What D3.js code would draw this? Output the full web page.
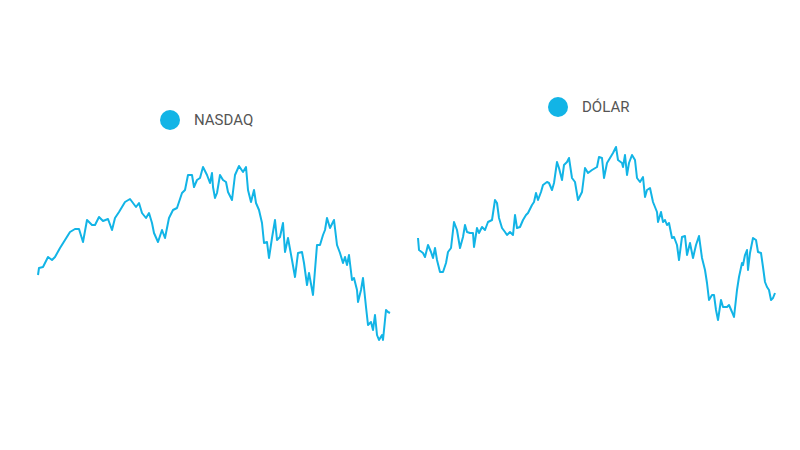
<!DOCTYPE html>
<html><head><meta charset="utf-8">
<script src="https://cdn.jsdelivr.net/npm/d3@7"></script>
<style>body{margin:0;background:#fff}svg{display:block}</style>
</head><body>
<svg id="c" width="800" height="450"></svg>
<script>
const seriesNames = ["NASDAQ", "DÓLAR"];
const nasdaqDays = [0,1,5,10,14,17,22,27,32,37,41,45,49,54,57,61,65,70,74,77,81,87,92,95,98,101,104,108,111,114,116,120,124,127,131,135,139,144,147,150,154,156,159,162,165,169,172,174,175,177,179,182,185,188,190,194,197,201,205,208,210,213,216,218,221,224,226,229,231,234,237,239,242,245,247,250,254,257,260,264,266,269,271,275,279,282,285,287,289,292,296,299,302,305,307,309,311,314,316,319,320,323,325,328,330,333,335,337,339,341,344,345,348,350,352];
const nasdaqValues = [125,132,133,143,140,143,152,160,168,171,171,158,180,175,175,183,179,181,170,182,188,198,201,197,193,197,187,182,187,177,167,158,170,162,182,190,192,207,210,225,225,213,220,222,233,225,217,227,213,202,207,225,220,218,208,200,225,234,228,233,210,198,210,197,190,177,157,158,142,162,180,160,163,177,148,162,140,123,147,148,137,115,127,105,155,155,165,170,182,172,180,155,147,137,143,135,145,120,122,110,98,110,122,93,75,78,70,85,65,60,65,60,90,88,87];
const dolarDays = [0,1,5,7,10,13,15,17,19,22,25,28,30,33,36,39,42,45,47,49,52,55,56,59,61,64,67,70,74,77,79,81,84,87,89,92,95,97,99,102,105,108,110,114,116,118,120,123,125,129,131,134,136,139,141,144,146,149,151,154,157,160,164,167,170,174,179,181,184,186,189,192,195,198,200,204,205,207,209,211,214,217,219,222,225,227,229,232,235,237,239,240,243,245,247,249,251,254,256,259,261,264,267,269,272,275,278,281,284,287,289,291,294,296,298,300,303,305,309,311,314,316,319,321,324,325,327,329,330,332,335,338,340,343,345,347,349,351,353,355,357];
const dolarValues = [162,150,147,143,155,148,142,152,140,128,128,137,148,152,178,170,152,163,175,168,167,167,153,172,167,173,170,178,180,200,197,182,172,168,165,168,165,185,172,173,180,185,187,195,198,207,200,208,215,218,217,210,217,238,232,220,235,238,242,222,218,200,208,232,227,230,233,243,242,222,237,242,247,253,240,237,233,245,225,237,245,240,222,218,223,203,210,212,198,193,188,178,188,178,180,175,177,162,163,155,140,163,164,145,157,142,155,164,142,130,117,100,105,105,90,80,100,93,93,95,88,83,110,123,137,135,145,150,130,147,162,160,148,147,133,118,113,110,100,102,107];

const color = "#12b4e6";
const svg = d3.select("#c");

const panels = [
  {name: seriesNames[0], days: nasdaqDays, vals: nasdaqValues, x0: 38, x1: 390, yTop: 166, yBot: 340, lx: 170, ly: 120},
  {name: seriesNames[1], days: dolarDays, vals: dolarValues, x0: 418, x1: 775, yTop: 147, yBot: 320, lx: 558, ly: 107}
];

panels.forEach(p => {
  const data = p.days.map((d, i) => ({d, v: p.vals[i]}));
  const x = d3.scaleLinear().domain(d3.extent(p.days)).range([p.x0, p.x1]);
  const y = d3.scaleLinear().domain(d3.extent(p.vals)).range([p.yBot, p.yTop]);
  const line = d3.line().x(e => x(e.d)).y(e => y(e.v));
  svg.append("path").datum(data).attr("d", line)
    .attr("fill", "none").attr("stroke", color).attr("stroke-width", 2)
    .attr("stroke-linejoin", "round");
  svg.append("circle").attr("cx", p.lx).attr("cy", p.ly).attr("r", 10).attr("fill", color);
  svg.append("text").attr("x", p.lx + 24).attr("y", p.ly).attr("dy", "0.35em")
    .attr("font-family", "Roboto, sans-serif").attr("font-size", 15).attr("fill", "#555")
    .text(p.name);
});
</script>
</body></html>
